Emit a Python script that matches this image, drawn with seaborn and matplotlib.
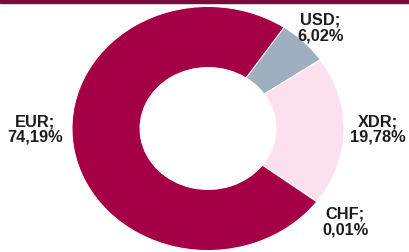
import numpy as np
import matplotlib
matplotlib.use('Agg')
import matplotlib.pyplot as plt
from matplotlib.patches import Rectangle
import seaborn as sns

# currency structure
currencies = ['USD', 'XDR', 'CHF', 'EUR']
shares = [6.02, 19.78, 0.01, 74.19]
colors = ['#9eb0bf', '#fde0ee', '#a80048', '#a50046']

# label distance / angle override per slice (style only)
label_dist = [1.17, 1.25, 1.26, 1.27]
label_angle = [None, 0.0, None, 180.0]

sns.set_theme(style="white")
plt.rcParams['font.family'] = ['Liberation Sans', 'DejaVu Sans']

fig = plt.figure(figsize=(4.09, 2.53), dpi=100)
ax = fig.add_axes([0, 0, 1, 1])

wedges, _ = ax.pie(shares, colors=colors, startangle=56, counterclock=False,
                   radius=1.0,
                   wedgeprops=dict(width=0.5, edgecolor='white', linewidth=0.7))

for w, name, val, d, ang in zip(wedges, currencies, shares, label_dist, label_angle):
    mid = (w.theta1 + w.theta2) / 2 if ang is None else ang
    x = d * np.cos(np.deg2rad(mid))
    y = d * np.sin(np.deg2rad(mid))
    txt = f"{name};\n{val:.2f}%".replace('.', ',')
    ax.text(x, y, txt, ha='center', va='center', fontsize=11.8,
            fontweight='bold', color='#1c1c1c', linespacing=1.05)

ax.set_aspect('auto')
ax.set_xlim(-208 / 136, (409 - 208) / 136)
ax.set_ylim(-123.5 / 122, 129.5 / 122)
ax.axis('off')

fig.add_artist(Rectangle((0, 1 - 3.5 / 253), 1, 3.5 / 253, transform=fig.transFigure,
                         color='#7a0c3b', zorder=10))

fig.savefig('out.png', dpi=100)
